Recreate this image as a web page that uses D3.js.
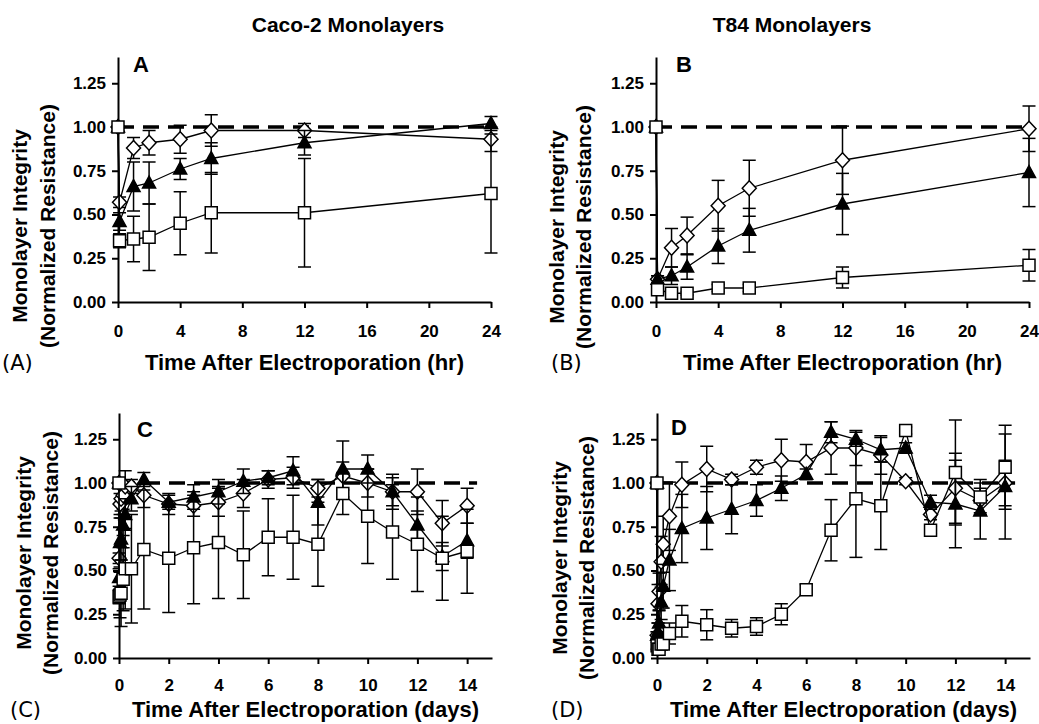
<!DOCTYPE html>
<html>
<head>
<meta charset="utf-8">
<script src="https://cdn.jsdelivr.net/npm/d3@7"></script>
<style>
  body { margin: 0; background: #fff; }
  svg { display: block; }
  text { font-family: "Liberation Sans", Arial, sans-serif; fill: #000; }
</style>
</head>
<body>
<svg id="fig" width="1039" height="724"></svg>
<script>
// hours after electroporation (0 = before, 0.1 = right after)
const hours = [0, 0.1, 1, 2, 4, 6, 12, 24];
// later days (day 1 = the 24 hr point)
const days = [2, 3, 4, 5, 6, 7, 8, 9, 10, 11, 12, 13, 14];

// Caco-2, first 24 hr
const cacoSq      = [1.00, 0.35, 0.36, 0.37, 0.45, 0.51, 0.51, 0.62];
const cacoSqErr   = [0, 0.04, 0.13, 0.19, 0.18, 0.23, 0.31, 0.34];
const cacoTri     = [1.00, 0.46, 0.66, 0.68, 0.76, 0.82, 0.91, 1.02];
const cacoTriErr  = [0, 0.05, 0.14, 0.12, 0.06, 0.09, 0.07, 0.04];
const cacoDia     = [1.00, 0.57, 0.88, 0.91, 0.93, 0.98, 0.98, 0.93];
const cacoDiaErr  = [0, 0.03, 0.06, 0.07, 0.08, 0.09, 0.04, 0.07];

// T84, first 24 hr
const t84Sq       = [1.00, 0.07, 0.05, 0.05, 0.08, 0.08, 0.14, 0.21];
const t84SqErr    = [0, 0.02, 0.01, 0.01, 0.02, 0.02, 0.06, 0.09];
const t84Tri      = [1.00, 0.13, 0.15, 0.20, 0.32, 0.41, 0.56, 0.74];
const t84TriErr   = [0, 0.02, 0.05, 0.07, 0.10, 0.125, 0.175, 0.195];
const t84Dia      = [1.00, 0.13, 0.31, 0.38, 0.55, 0.65, 0.81, 0.99];
const t84DiaErr   = [0, 0.02, 0.11, 0.105, 0.145, 0.16, 0.195, 0.13];

// Caco-2, days 2-14
const cacoDaySq     = [0.57, 0.63, 0.66, 0.59, 0.69, 0.69, 0.65, 0.94, 0.81, 0.72, 0.65, 0.57, 0.61];
const cacoDaySqErr  = [0.31, 0.32, 0.32, 0.25, 0.22, 0.24, 0.24, 0.12, 0.27, 0.27, 0.27, 0.24, 0.24];
const cacoDayTri    = [0.89, 0.92, 0.95, 1.01, 1.03, 1.07, 0.89, 1.08, 1.08, 0.95, 0.76, 0.58, 0.67];
const cacoDayTriErr = [0.04, 0.07, 0.07, 0.07, 0.04, 0.08, 0.13, 0.16, 0.08, 0.10, 0.08, 0.08, 0.10];
const cacoDayDia    = [0.88, 0.87, 0.89, 0.94, 1.02, 1.03, 0.97, 1.04, 1.00, 0.95, 0.95, 0.77, 0.87];
const cacoDayDiaErr = [0.06, 0.06, 0.08, 0.08, 0.05, 0.06, 0.05, 0.08, 0.08, 0.08, 0.13, 0.13, 0.10];

// T84, days 2-14
const t84DaySq      = [0.19, 0.17, 0.18, 0.25, 0.39, 0.73, 0.91, 0.87, 1.30, 0.73, 1.06, 0.92, 1.09];
const t84DaySqErr   = [0.086, 0.05, 0.05, 0.06, 0.03, 0.175, 0.335, 0.25, 0.02, 0.02, 0.30, 0.10, 0.24];
const t84DayTri     = [0.80, 0.85, 0.90, 0.97, 1.05, 1.29, 1.25, 1.19, 1.20, 0.89, 0.88, 0.84, 0.98];
const t84DayTriErr  = [0.18, 0.14, 0.09, 0.07, 0.03, 0.06, 0.04, 0.07, 0.03, 0.04, 0.25, 0.16, 0.30];
const t84DayDia     = [1.08, 1.02, 1.09, 1.13, 1.12, 1.20, 1.20, 1.16, 1.01, 0.82, 0.97, 0.90, 1.00];
const t84DayDiaErr  = [0.13, 0.03, 0.04, 0.12, 0.10, 0.15, 0.10, 0.11, 0.02, 0.03, 0.20, 0.07, 0.13];

const yTicks = [0, 0.25, 0.5, 0.75, 1.0, 1.25];
const hourTicks = [0, 4, 8, 12, 16, 20, 24];
const dayTicks = [0, 2, 4, 6, 8, 10, 12, 14];

const svg = d3.select('#fig');
svg.append('rect').attr('width', 1039).attr('height', 724).attr('fill', '#fff');

const shapes = {
  square: 'M-6,-6H6V6H-6Z',
  diamond: 'M0,-7.5L7,0L0,7.5L-7,0Z',
  triangle: 'M0,-7L6.5,5L-6.5,5Z'
};

const dayTimes = hours.map(h => h / 24).concat(days);

const panels = [
  { left: 118, zero: 302, xMax: 24, ticks: hourTicks, times: hours, dashEnd: 24,
    series: [[cacoDia, cacoDiaErr, 'diamond'], [cacoTri, cacoTriErr, 'triangle'], [cacoSq, cacoSqErr, 'square']],
    letter: 'A', letterX: 133, letterY: 72, tag: '(A)', tagX: 2, tagY: 370,
    xTitle: 'Time After Electroporation (hr)', xTitleY: 370, tickY: 35,
    yl1: 27, yl2: 55, ylY: 226 },
  { left: 656, zero: 302, xMax: 24, ticks: hourTicks, times: hours, dashEnd: 24,
    series: [[t84Dia, t84DiaErr, 'diamond'], [t84Tri, t84TriErr, 'triangle'], [t84Sq, t84SqErr, 'square']],
    letter: 'B', letterX: 676, letterY: 72, tag: '(B)', tagX: 551, tagY: 370,
    xTitle: 'Time After Electroporation (hr)', xTitleY: 370, tickY: 35,
    yl1: 564, yl2: 591, ylY: 227 },
  { left: 119, zero: 658, xMax: 15, ticks: dayTicks, times: dayTimes, dashEnd: 14.4,
    series: [[cacoDia.concat(cacoDayDia), cacoDiaErr.concat(cacoDayDiaErr), 'diamond'],
             [cacoTri.concat(cacoDayTri), cacoTriErr.concat(cacoDayTriErr), 'triangle'],
             [cacoSq.concat(cacoDaySq), cacoSqErr.concat(cacoDaySqErr), 'square']],
    letter: 'C', letterX: 137, letterY: 437, tag: '(C)', tagX: 10, tagY: 717,
    xTitle: 'Time After Electroporation (days)', xTitleY: 717, tickY: 33,
    yl1: 31, yl2: 58, ylY: 553 },
  { left: 657, zero: 658, xMax: 15, ticks: dayTicks, times: dayTimes, dashEnd: 14.4,
    series: [[t84Dia.concat(t84DayDia), t84DiaErr.concat(t84DayDiaErr), 'diamond'],
             [t84Tri.concat(t84DayTri), t84TriErr.concat(t84DayTriErr), 'triangle'],
             [t84Sq.concat(t84DaySq), t84SqErr.concat(t84DaySqErr), 'square']],
    letter: 'D', letterX: 671, letterY: 435, tag: '(D)', tagX: 551, tagY: 717,
    xTitle: 'Time After Electroporation (days)', xTitleY: 717, tickY: 33,
    yl1: 567, yl2: 594, ylY: 558 }
];

const plotW = 373;
const unitH = 175;

panels.forEach(p => {
  const x = d3.scaleLinear().domain([0, p.xMax]).range([p.left, p.left + plotW]);
  const y = d3.scaleLinear().domain([0, 1.4]).range([p.zero, p.zero - 1.4 * unitH]);

  // axes
  const gx = svg.append('g').attr('transform', `translate(0,${p.zero})`)
    .call(d3.axisBottom(x).tickValues(p.ticks).tickSize(6).tickSizeOuter(0).tickFormat(d3.format('d')));
  gx.selectAll('text').attr('y', p.tickY).attr('dy', 0)
    .style('font-size', '17px').style('font-weight', 'bold').style('font-family', '"Liberation Sans", Arial, sans-serif');

  const gy = svg.append('g').attr('transform', `translate(${p.left},0)`)
    .call(d3.axisLeft(y).tickValues(yTicks).tickSize(6).tickSizeOuter(0).tickPadding(6).tickFormat(d3.format('.2f')));
  gy.selectAll('text')
    .style('font-size', '17px').style('font-weight', 'bold').style('font-family', '"Liberation Sans", Arial, sans-serif');

  [gx, gy].forEach(g => {
    g.select('.domain').attr('stroke', '#000').attr('stroke-width', 2);
    g.selectAll('.tick line').attr('stroke', '#000').attr('stroke-width', 2);
  });

  // reference line at 1.0
  svg.append('line')
    .attr('x1', x(0)).attr('x2', x(p.dashEnd))
    .attr('y1', y(1)).attr('y2', y(1))
    .attr('stroke', '#000').attr('stroke-width', 3.5)
    .attr('stroke-dasharray', '16,9');

  const line = d3.line().x(d => x(d.t)).y(d => y(d.v));

  p.series.forEach(([vals, errs, shape]) => {
    const pts = vals.map((v, i) => ({ t: p.times[i], v: v, e: errs[i] }));
    const g = svg.append('g');

    // error bars
    const eb = g.selectAll('g.err').data(pts.filter(d => d.e > 0)).enter().append('g')
      .attr('stroke', '#000').attr('stroke-width', 1.5);
    eb.append('line').attr('x1', d => x(d.t)).attr('x2', d => x(d.t))
      .attr('y1', d => y(d.v - d.e)).attr('y2', d => y(d.v + d.e));
    eb.append('line').attr('x1', d => x(d.t) - 6.5).attr('x2', d => x(d.t) + 6.5)
      .attr('y1', d => y(d.v + d.e)).attr('y2', d => y(d.v + d.e));
    eb.append('line').attr('x1', d => x(d.t) - 6.5).attr('x2', d => x(d.t) + 6.5)
      .attr('y1', d => y(d.v - d.e)).attr('y2', d => y(d.v - d.e));

    g.append('path').datum(pts).attr('d', line)
      .attr('fill', 'none').attr('stroke', '#000').attr('stroke-width', 1.3);

    g.selectAll('path.mk').data(pts).enter().append('path')
      .attr('class', 'mk')
      .attr('transform', d => `translate(${x(d.t)},${y(d.v)})`)
      .attr('d', shapes[shape])
      .attr('fill', shape === 'triangle' ? '#000' : '#fff')
      .attr('stroke', '#000').attr('stroke-width', 1.5);
  });

  // labels
  svg.append('text').attr('x', p.letterX).attr('y', p.letterY)
    .style('font-size', '22px').style('font-weight', 'bold').text(p.letter);

  svg.append('text').attr('x', p.left + plotW / 2).attr('y', p.xTitleY)
    .attr('text-anchor', 'middle')
    .style('font-size', '22px').style('font-weight', 'bold').text(p.xTitle);

  svg.append('text').attr('x', p.tagX).attr('y', p.tagY)
    .style('font-family', '"DejaVu Sans", sans-serif').style('font-size', '21px')
    .text(p.tag);

  svg.append('text').attr('transform', `translate(${p.yl1},${p.ylY}) rotate(-90)`)
    .attr('text-anchor', 'middle')
    .style('font-size', '21px').style('font-weight', 'bold').text('Monolayer Integrity');
  svg.append('text').attr('transform', `translate(${p.yl2},${p.ylY}) rotate(-90)`)
    .attr('text-anchor', 'middle')
    .style('font-size', '21px').style('font-weight', 'bold').text('(Normalized Resistance)');
});

// column titles
svg.append('text').attr('x', 348).attr('y', 32).attr('text-anchor', 'middle')
  .style('font-size', '21px').style('font-weight', 'bold').text('Caco-2 Monolayers');
svg.append('text').attr('x', 792).attr('y', 32).attr('text-anchor', 'middle')
  .style('font-size', '21px').style('font-weight', 'bold').text('T84 Monolayers');
</script>
</body>
</html>
